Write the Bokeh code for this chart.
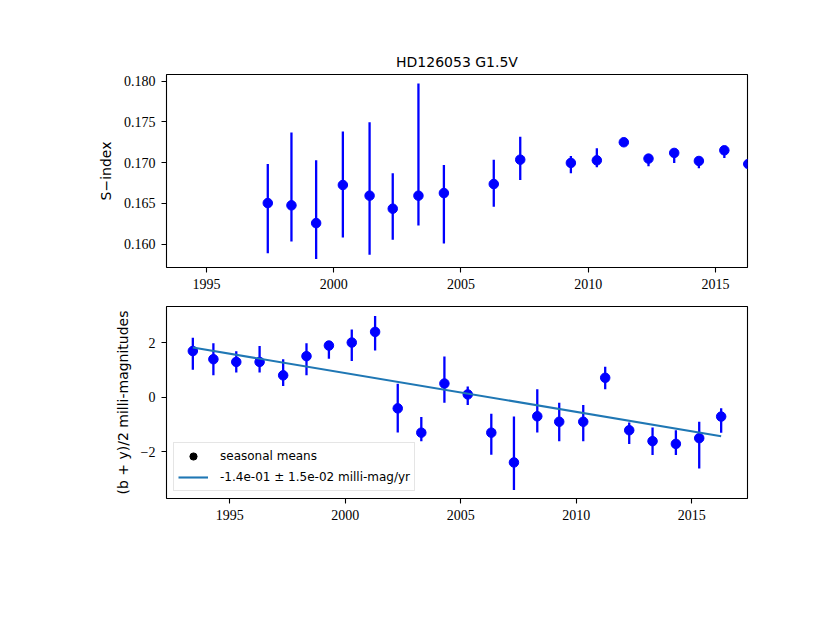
from bokeh.plotting import figure
from bokeh.layouts import column
from bokeh.models import Range1d, FixedTicker, NumeralTickFormatter, Legend, LegendItem, ColumnDataSource
from bokeh.embed import file_html
from bokeh.resources import INLINE

# ---------------- data ----------------
title_text = "HD126053 G1.5V"

years_s = [1997.41, 1998.34, 1999.31, 2000.36, 2001.41, 2002.32, 2003.33, 2004.33, 2006.29,
           2007.33, 2009.32, 2010.34, 2011.40, 2012.37, 2013.38, 2014.35, 2015.35, 2016.29]
s_index = [0.16503, 0.16475, 0.16257, 0.16725, 0.16594, 0.16434, 0.16594, 0.16626, 0.16737,
           0.17036, 0.16996, 0.17028, 0.17250, 0.17049, 0.17119, 0.17020, 0.17151, 0.16983]
s_hi = [0.16983, 0.17369, 0.17028, 0.17381, 0.17496, 0.16868, 0.17971, 0.16971, 0.17036,
        0.17319, 0.17082, 0.17176, 0.17280, 0.17070, 0.17140, 0.17040, 0.17170, 0.17000]
s_lo = [0.15888, 0.16032, 0.15815, 0.16081, 0.15868, 0.16052, 0.16229, 0.16007, 0.16458,
        0.16786, 0.16868, 0.16942, 0.17220, 0.16955, 0.16996, 0.16930, 0.17057, 0.16960]

years_p = [1993.40, 1994.29, 1995.28, 1996.29, 1997.31, 1998.32, 1999.29, 2000.28, 2001.29,
           2002.27, 2003.29, 2004.29, 2005.30, 2006.32, 2007.30, 2008.31, 2009.26, 2010.30,
           2011.25, 2012.29, 2013.30, 2014.31, 2015.32, 2016.27]
mag = [1.69, 1.39, 1.29, 1.29, 0.80, 1.50, 1.89, 2.00, 2.39, -0.41, -1.30, 0.50, 0.10, -1.30,
       -2.39, -0.70, -0.90, -0.90, 0.71, -1.21, -1.61, -1.71, -1.50, -0.71]
mag_hi = [2.18, 1.97, 1.68, 1.87, 1.39, 1.97, 2.05, 2.48, 2.97, 0.49, -0.73, 1.49, 0.39, -0.61,
          -0.71, 0.29, -0.20, -0.29, 1.11, -0.93, -1.11, -1.21, -0.90, -0.41]
mag_lo = [1.00, 0.80, 0.90, 0.90, 0.41, 0.80, 1.41, 1.32, 1.71, -1.29, -1.61, -0.20, -0.29, -2.11,
          -3.40, -1.29, -1.61, -1.61, 0.29, -1.71, -2.12, -2.12, -2.61, -1.30]

fit_years = [1993.40, 2016.27]
fit_mag = [1.82, -1.43]

x_ticks = [1995, 2000, 2005, 2010, 2015]
s_ticks = [0.160, 0.165, 0.170, 0.175, 0.180]
mag_ticks = [-2, 0, 2]

legend_labels = ["seasonal means", "-1.4e-01 \u00b1 1.5e-02 milli-mag/yr"]

# ---------------- style ----------------
SERIF = "Liberation Serif"
SANS = "DejaVu Sans"
BLUE = "#0000ff"


def style(p):
    p.outline_line_color = "black"
    p.outline_line_width = 1.1
    p.outline_line_alpha = 1
    p.grid.visible = False
    p.background_fill_color = "white"
    p.border_fill_color = "white"
    for ax in (p.xaxis[0], p.yaxis[0]):
        ax.axis_line_color = None
        ax.major_tick_out = 5
        ax.major_tick_in = 0
        ax.major_tick_line_color = "black"
        ax.major_tick_line_width = 1.1
        ax.minor_tick_line_color = None
        ax.major_label_text_font = SERIF
        ax.major_label_text_font_size = "14px"
        ax.major_label_text_color = "black"
        ax.major_label_standoff = 6
        ax.axis_label_text_font = SANS
        ax.axis_label_text_font_size = "14px"
        ax.axis_label_text_font_style = "normal"
        ax.axis_label_text_color = "black"
        ax.axis_label_standoff = 7


# ---------------- top panel ----------------
p1 = figure(width=808, height=297, output_backend="svg", toolbar_location=None,
            x_range=Range1d(1993.43, 2016.26), y_range=Range1d(0.15712, 0.18082),
            min_border_left=166, min_border_right=61, min_border_top=74, min_border_bottom=30,
            title=title_text)
p1.title.align = "center"
p1.title.text_font = SANS
p1.title.text_font_size = "14px"
p1.title.text_font_style = "normal"
p1.title.text_color = "black"
style(p1)
p1.xaxis[0].ticker = FixedTicker(ticks=x_ticks)
p1.yaxis[0].ticker = FixedTicker(ticks=s_ticks)
p1.yaxis[0].formatter = NumeralTickFormatter(format="0.000")
p1.yaxis[0].axis_label = "S\u2212index"

src1 = ColumnDataSource(dict(x=years_s, y=s_index, lo=s_lo, hi=s_hi))
p1.segment(x0="x", y0="lo", x1="x", y1="hi", source=src1, line_color=BLUE, line_width=2.3)
p1.scatter(x="x", y="y", source=src1, marker="circle", size=9.5, fill_color=BLUE, line_color=BLUE)

# ---------------- bottom panel ----------------
p2 = figure(width=808, height=261, output_backend="svg", toolbar_location=None,
            x_range=Range1d(1992.26, 2017.41), y_range=Range1d(-3.71, 3.32),
            min_border_left=166, min_border_right=61, min_border_top=9, min_border_bottom=60,
            title=None)
style(p2)
p2.xaxis[0].ticker = FixedTicker(ticks=x_ticks)
p2.yaxis[0].ticker = FixedTicker(ticks=mag_ticks)
p2.yaxis[0].major_label_overrides = {-2: "\u22122", 0: "0", 2: "2"}
p2.yaxis[0].axis_label = "(b + y)/2 milli-magnitudes"

src2 = ColumnDataSource(dict(x=years_p, y=mag, lo=mag_lo, hi=mag_hi))
p2.segment(x0="x", y0="lo", x1="x", y1="hi", source=src2, line_color=BLUE, line_width=2.3)
p2.scatter(x="x", y="y", source=src2, marker="circle", size=9.5, fill_color=BLUE, line_color=BLUE)
fit = p2.line(x=fit_years, y=fit_mag, line_color="#1f77b4", line_width=2.1)
# legend-only marker (not drawn in the plot area: y is NaN)
dot = p2.scatter(x=[years_p[0]], y=[float("nan")], marker="circle", size=4.5,
                 fill_color="black", line_color="black")

legend = Legend(items=[LegendItem(label=legend_labels[0], renderers=[dot]),
                       LegendItem(label=legend_labels[1], renderers=[fit])],
                location="bottom_left")
legend.label_text_font = SANS
legend.label_text_font_size = "12px"
legend.label_text_color = "black"
legend.border_line_color = "#cccccc"
legend.border_line_width = 1
legend.background_fill_color = "white"
legend.background_fill_alpha = 0.8
legend.glyph_width = 30
legend.glyph_height = 18
legend.label_height = 18
legend.label_standoff = 12
legend.padding = 4
legend.spacing = 3
legend.margin = 7
p2.add_layout(legend)

layout = column(p1, p2, spacing=0)
open("out.html", "w").write(file_html(layout, INLINE))
